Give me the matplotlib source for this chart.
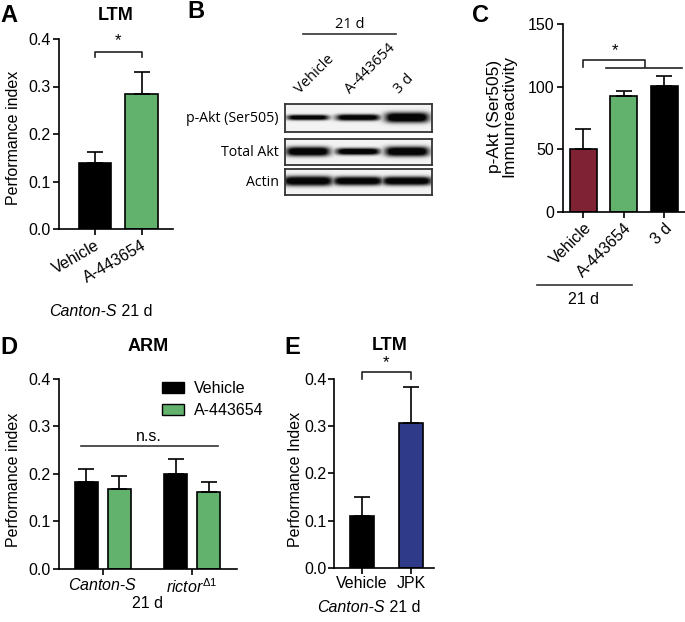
import numpy as np
import matplotlib
matplotlib.use("Agg")
import matplotlib.pyplot as plt
from matplotlib.patches import Patch

plt.rcParams['font.family'] = ['Liberation Sans', 'DejaVu Sans']
plt.rcParams['mathtext.fontset'] = 'custom'
plt.rcParams['mathtext.rm'] = 'Liberation Sans'
plt.rcParams['mathtext.it'] = 'Liberation Sans:italic'
plt.rcParams['font.size'] = 11.5
plt.rcParams['axes.linewidth'] = 1.2
plt.rcParams['xtick.major.width'] = 1.2
plt.rcParams['ytick.major.width'] = 1.2
plt.rcParams['xtick.major.size'] = 4
plt.rcParams['ytick.major.size'] = 4

GREEN = '#62b26e'
MAROON = '#7e2234'
BLUE = '#2f3a88'

# --- data ---
a_labels = ['Vehicle', 'A-443654']
a_means = [0.139, 0.284]
a_err = [0.023, 0.047]

c_labels = ['Vehicle', 'A-443654', '3 d']
c_means = [50, 92.5, 100.3]
c_err = [16, 4.3, 8]

d_groups = ['$\\mathit{Canton}$-$\\mathit{S}$', '$\\mathit{rictor}^{\\Delta1}$']
d_vehicle = [0.183, 0.199]
d_vehicle_err = [0.028, 0.033]
d_drug = [0.169, 0.162]
d_drug_err = [0.027, 0.020]

e_labels = ['Vehicle', 'JPK']
e_means = [0.110, 0.306]
e_err = [0.039, 0.078]

blot_rows = ['p-Akt (Ser505)', 'Total Akt', 'Actin']
blot_lanes = ['Vehicle', 'A-443654', '3 d']
# band thickness (px) and darkness per row, per lane
blot_thick = [[5.5, 6.5, 10.5], [9.5, 7.0, 10.0], [9.5, 8.5, 8.5]]
blot_dark = [[0.95, 0.97, 1.0], [1.0, 1.0, 1.0], [1.0, 1.0, 1.0]]
blot_halfw = [[20, 21, 21], [21, 21, 21], [24, 24, 24]]

W, H = 685, 622
fig = plt.figure(figsize=(W / 100, H / 100), dpi=100)


def px_axes(left, top, right, bottom):
    return fig.add_axes([left / W, 1 - bottom / H, (right - left) / W, (bottom - top) / H])


def ftext(x, y, s, **kw):
    return fig.text(x / W, 1 - y / H, s, **kw)


def fline(x0, x1, y, **kw):
    fig.add_artist(plt.Line2D([x0 / W, x1 / W], [1 - y / H, 1 - y / H],
                              color='#333333', lw=1.2, **kw))


def prism(ax):
    ax.spines['top'].set_visible(False)
    ax.spines['right'].set_visible(False)
    ax.tick_params(direction='out', pad=2)


def bracket(ax, x0, x1, y, drop):
    ax.plot([x0, x0, x1, x1], [y - drop, y, y, y - drop], color='#222222', lw=1.2,
            clip_on=False)


# --- A ---
ax = px_axes(59, 39, 173, 229)
prism(ax)
xa = np.arange(len(a_labels))
ax.bar(xa, a_means, width=0.69, color=['black', GREEN], edgecolor='black', lw=1.2,
       yerr=[np.zeros(2), a_err], capsize=6, error_kw=dict(lw=1.2, capthick=1.2))
ax.set_xlim(-0.774, 1.677)
ax.set_ylim(0, 0.4)
ax.set_yticks([0, 0.1, 0.2, 0.3, 0.4])
ax.set_yticklabels(['0.0', '0.1', '0.2', '0.3', '0.4'])
ax.set_xticks(xa)
ax.set_xticklabels(a_labels, rotation=30, ha='right', rotation_mode='anchor')
ax.set_ylabel('Performance index')
ax.yaxis.set_label_coords(-0.333, 0.48)
bracket(ax, 0, 1, 0.373, 0.011)
ax.text(0.5, 0.38, '*', ha='center', va='bottom', fontsize=12)
ax.set_title('LTM', fontweight='bold', fontsize=13, pad=14)
ftext(117, 312, 'Canton-S', style='italic', ha='right', va='center')
ftext(117, 312, ' 21 d', ha='left', va='center')

# --- B (blot) ---
box_x0, box_x1 = 285, 432
row_tops = [104, 139, 169]
row_bots = [132, 165, 195]
lane_cx = [308, 358, 407]
for r, name in enumerate(blot_rows):
    axb = px_axes(box_x0, row_tops[r], box_x1, row_bots[r])
    w = box_x1 - box_x0
    h = row_bots[r] - row_tops[r]
    xx, yy = np.meshgrid(np.arange(w) + 0.5, np.arange(h) + 0.5)
    dens = np.zeros_like(xx)
    for k, cx in enumerate(lane_cx):
        hx = 1.0 / (1.0 + ((xx - (cx - box_x0)) / blot_halfw[r][k]) ** 8)
        vy = np.exp(-np.abs((yy - h / 2 + 0.5) / (blot_thick[r][k] / 2)) ** 2.5)
        dens = np.maximum(dens, blot_dark[r][k] * hx * vy)
    img = 0.95 - 0.93 * np.clip(dens * 1.25, 0, 1)
    axb.imshow(img, cmap='gray', vmin=0, vmax=1, extent=(0, w, h, 0),
               aspect='auto', interpolation='bilinear')
    axb.set_xticks([])
    axb.set_yticks([])
    for s in axb.spines.values():
        s.set_color('#333333')
        s.set_linewidth(1.3)
    ftext(279, (row_tops[r] + row_bots[r]) / 2, name, ha='right', va='center',
          fontsize=10.2, family=['Open Sans', 'DejaVu Sans'])
for k, lab in enumerate(blot_lanes):
    ftext(lane_cx[k] - 5, 97, lab, rotation=45, rotation_mode='anchor', ha='left',
          va='bottom', fontsize=10.5, family=['Open Sans', 'DejaVu Sans'])
fline(303, 396, 34)
ftext(350, 24, '21 d', ha='center', va='center', fontsize=10.5,
      family=['Open Sans', 'DejaVu Sans'])

# --- C ---
ax = px_axes(562.7, 24, 685, 212)
prism(ax)
xc = np.arange(len(c_labels))
ax.bar(xc, c_means, width=0.67, color=[MAROON, GREEN, 'black'], edgecolor='black',
       lw=1.2, yerr=[np.zeros(3), c_err], capsize=6, error_kw=dict(lw=1.2, capthick=1.2))
ax.set_xlim(-0.516, 2.52)
ax.set_ylim(0, 150)
ax.set_yticks([0, 50, 100, 150])
ax.set_xticks(xc)
ax.set_xticklabels(c_labels, rotation=45, ha='right', rotation_mode='anchor')
bracket(ax, 0, 2.0 - 0.5 * 0.94, 121, 5)
ax.plot([0.55, 2.45], [115, 115], color='#222222', lw=1.2, clip_on=False)
ax.text(0.77, 123, '*', ha='center', va='bottom', fontsize=12)
ftext(502, 116, 'p-Akt (Ser505)\nImmunreactivity', rotation=90, ha='center',
      va='center', multialignment='center', linespacing=0.95, fontsize=12.5)
fline(537, 632, 285)
ftext(584, 299, '21 d', ha='center', va='center')

# --- D ---
ax = px_axes(59.3, 379, 236.7, 568.7)
prism(ax)
xd = np.arange(len(d_groups))
off = 0.185
ax.bar(xd - off, d_vehicle, width=0.26, color='black', edgecolor='black', lw=1.2,
       yerr=[np.zeros(2), d_vehicle_err], capsize=6, error_kw=dict(lw=1.2, capthick=1.2))
ax.bar(xd + off, d_drug, width=0.26, color=GREEN, edgecolor='black', lw=1.2,
       yerr=[np.zeros(2), d_drug_err], capsize=6, error_kw=dict(lw=1.2, capthick=1.2))
ax.set_xlim(-0.49, 1.50)
ax.set_ylim(0, 0.4)
ax.set_yticks([0, 0.1, 0.2, 0.3, 0.4])
ax.set_yticklabels(['0.0', '0.1', '0.2', '0.3', '0.4'])
ax.set_xticks(xd)
ax.set_xticklabels(d_groups)
ax.set_ylabel('Performance index')
ax.yaxis.set_label_coords(-0.216, 0.47)
ax.plot([-0.25, 1.29], [0.259, 0.259], color='#333333', lw=1.2)
ax.text(0.52, 0.262, 'n.s.', ha='center', va='bottom')
ax.set_title('ARM', fontweight='bold', fontsize=13, pad=20)
ax.legend(handles=[Patch(facecolor='black', edgecolor='black', label='Vehicle'),
                   Patch(facecolor=GREEN, edgecolor='black', label='A-443654')],
          loc='upper left', bbox_to_anchor=(154 / W, 1 - 373 / H),
          bbox_transform=fig.transFigure, frameon=False, handlelength=1.4,
          handleheight=0.7, handletextpad=0.6, labelspacing=0.45, borderpad=0)
ftext(147, 603, '21 d', ha='center', va='center')

# --- E ---
ax = px_axes(334, 379, 434, 567.7)
prism(ax)
ax.tick_params(axis='y', pad=1.5)
xe = np.arange(len(e_labels))
ax.bar(xe, e_means, width=0.49, color=['black', BLUE], edgecolor='black', lw=1.2,
       yerr=[np.zeros(2), e_err], capsize=6, error_kw=dict(lw=1.2, capthick=1.2))
ax.set_xlim(-0.571, 1.47)
ax.set_ylim(0, 0.4)
ax.set_yticks([0, 0.1, 0.2, 0.3, 0.4])
ax.set_yticklabels(['0.0', '0.1', '0.2', '0.3', '0.4'])
ax.set_xticks(xe)
ax.set_xticklabels(e_labels)
ax.set_ylabel('Performance Index')
ax.yaxis.set_label_coords(-0.315, 0.47)
bracket(ax, 0, 1, 0.414, 0.013)
ax.text(0.5, 0.418, '*', ha='center', va='bottom', fontsize=12)
ftext(390, 345, 'LTM', ha='center', va='center', fontweight='bold', fontsize=13)
ftext(385, 608, 'Canton-S', style='italic', ha='right', va='center')
ftext(385, 608, ' 21 d', ha='left', va='center')

# panel letters
for s, x, y in [('A', 0, 15), ('B', 187, 12), ('C', 472, 15), ('D', 0, 348), ('E', 284, 348)]:
    ftext(x, y, s, fontweight='bold', fontsize=17, ha='left', va='center')

fig.savefig('out.png', dpi=100)
